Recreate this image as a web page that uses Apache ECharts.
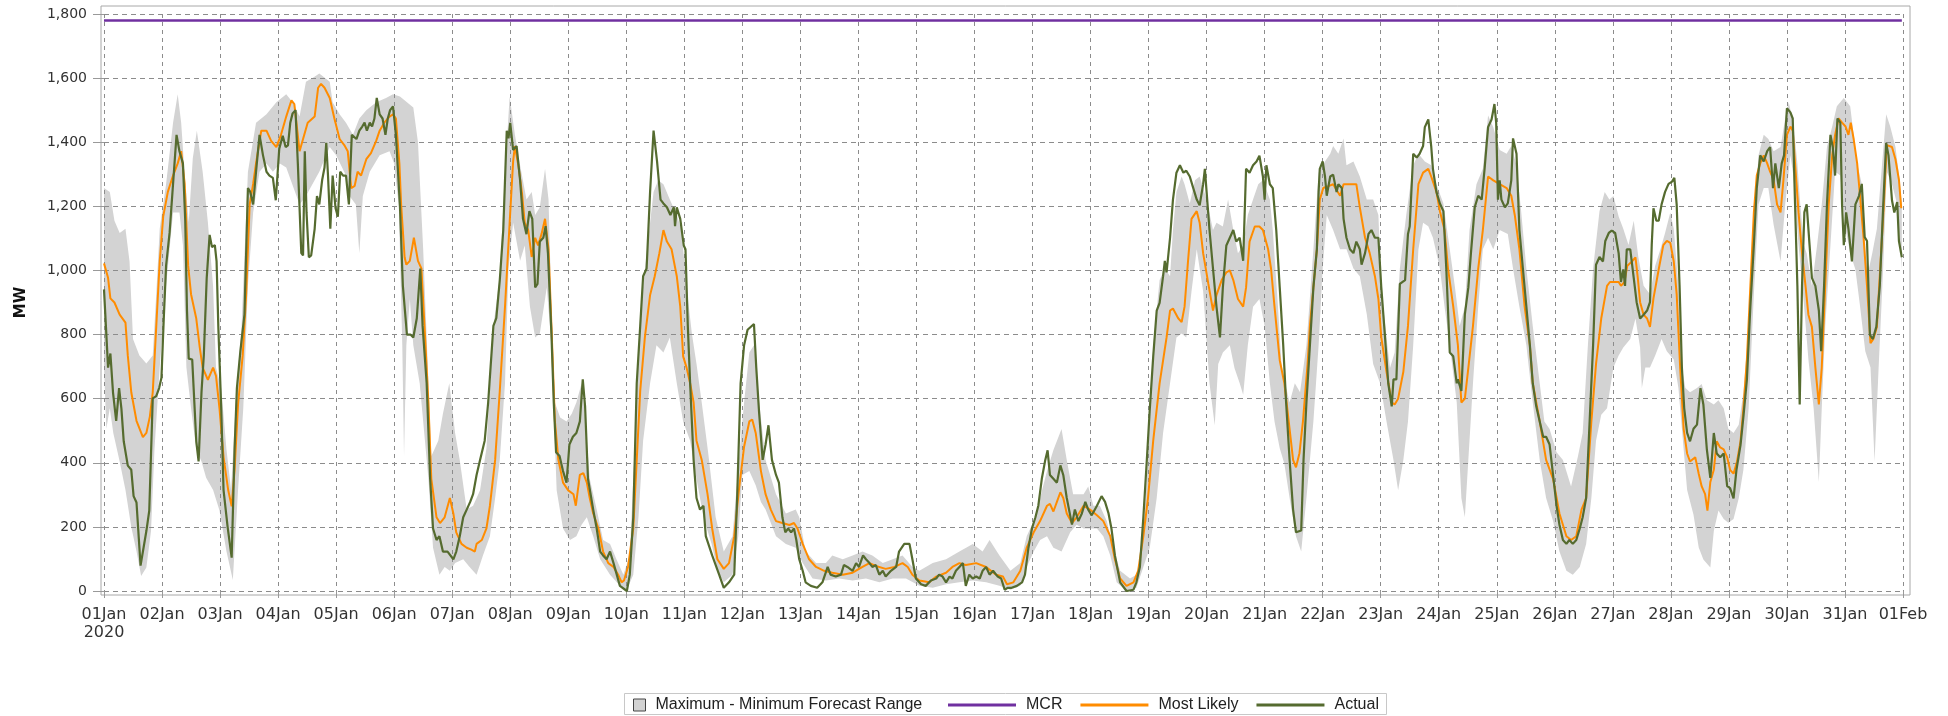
<!DOCTYPE html>
<html>
<head>
<meta charset="utf-8">
<script src="https://cdn.jsdelivr.net/npm/echarts@6/dist/echarts.min.js"></script>
<style>
html,body{margin:0;padding:0;background:#fff;}
#chart{width:1948px;height:716px;}
</style>
</head>
<body>
<div id="chart"></div>
<script>
// x = days since 01 Jan 2020 00:00, y = MW
const xTickLabels = ['01Jan\n2020','02Jan','03Jan','04Jan','05Jan','06Jan','07Jan','08Jan','09Jan','10Jan','11Jan','12Jan','13Jan','14Jan','15Jan','16Jan','17Jan','18Jan','19Jan','20Jan','21Jan','22Jan','23Jan','24Jan','25Jan','26Jan','27Jan','28Jan','29Jan','30Jan','31Jan','01Feb'];
const seriesNames = ['Maximum - Minimum Forecast Range','MCR','Most Likely','Actual'];

const mcrPts = [[0,1780],[30.98,1780]];

const actualPts = [[0,941],[0.07,697],[0.11,741],[0.155,620],[0.21,531],[0.26,633],[0.30,569],[0.34,467],[0.41,391],[0.47,378],[0.51,296],[0.56,276],[0.63,79],[0.73,187],[0.78,251],[0.84,601],[0.90,608],[0.95,633],[0.99,665],[1.03,850],[1.07,1015],[1.13,1117],[1.19,1270],[1.25,1423],[1.30,1372],[1.36,1334],[1.40,1155],[1.43,875],[1.46,725],[1.52,722],[1.59,467],[1.63,404],[1.68,620],[1.72,735],[1.77,977],[1.82,1111],[1.86,1073],[1.91,1079],[1.94,1028],[1.97,824],[2.02,570],[2.06,315],[2.13,200],[2.20,104],[2.25,442],[2.29,633],[2.35,748],[2.42,862],[2.48,1257],[2.52,1245],[2.57,1206],[2.62,1308],[2.68,1423],[2.74,1359],[2.80,1308],[2.85,1296],[2.91,1289],[2.96,1219],[3.02,1380],[3.08,1420],[3.13,1385],[3.17,1390],[3.21,1461],[3.25,1490],[3.30,1500],[3.34,1334],[3.40,1054],[3.43,1047],[3.46,1372],[3.49,1181],[3.53,1041],[3.57,1047],[3.63,1130],[3.67,1232],[3.71,1206],[3.76,1283],[3.80,1321],[3.83,1398],[3.86,1296],[3.90,1130],[3.94,1296],[3.99,1194],[4.03,1168],[4.07,1308],[4.12,1296],[4.17,1296],[4.22,1206],[4.27,1423],[4.30,1423],[4.35,1410],[4.40,1436],[4.45,1449],[4.49,1461],[4.53,1436],[4.58,1461],[4.62,1449],[4.66,1474],[4.70,1538],[4.75,1487],[4.80,1474],[4.85,1423],[4.89,1474],[4.93,1500],[4.98,1512],[5.03,1423],[5.10,1200],[5.15,952],[5.18,952],[5.22,800],[5.28,800],[5.33,791],[5.39,851],[5.45,1006],[5.49,827],[5.56,648],[5.62,350],[5.67,195],[5.73,159],[5.78,171],[5.84,123],[5.92,123],[6.02,99],[6.07,123],[6.13,171],[6.19,230],[6.25,254],[6.31,278],[6.36,302],[6.42,362],[6.48,409],[6.56,469],[6.62,588],[6.71,827],[6.76,851],[6.82,970],[6.88,1126],[6.94,1436],[6.97,1412],[7.0,1460],[7.05,1376],[7.11,1388],[7.17,1281],[7.22,1161],[7.28,1113],[7.33,1185],[7.38,1161],[7.43,947],[7.47,958],[7.51,1090],[7.57,1102],[7.61,1138],[7.65,1054],[7.71,803],[7.75,588],[7.79,433],[7.85,421],[7.91,374],[7.97,338],[8.02,457],[8.08,481],[8.14,493],[8.20,529],[8.25,660],[8.29,576],[8.34,350],[8.43,254],[8.49,195],[8.55,123],[8.60,111],[8.66,99],[8.72,123],[8.78,87],[8.89,16],[9.01,0],[9.06,51],[9.12,230],[9.18,648],[9.24,827],[9.29,982],[9.35,1006],[9.41,1245],[9.47,1436],[9.53,1340],[9.59,1221],[9.64,1209],[9.70,1197],[9.76,1173],[9.82,1197],[9.84,1138],[9.87,1197],[9.93,1161],[9.99,1078],[10.02,1066],[10.06,827],[10.10,648],[10.16,409],[10.21,290],[10.27,254],[10.33,266],[10.37,171],[10.48,111],[10.60,51],[10.68,10],[10.77,27],[10.86,51],[10.91,290],[10.97,648],[11.03,767],[11.09,815],[11.20,833],[11.24,696],[11.29,553],[11.35,409],[11.40,457],[11.45,517],[11.51,409],[11.58,362],[11.63,338],[11.69,230],[11.74,183],[11.79,195],[11.84,183],[11.89,195],[11.93,159],[11.98,99],[12.04,63],[12.09,27],[12.18,16],[12.29,10],[12.38,27],[12.47,75],[12.52,51],[12.61,45],[12.70,51],[12.75,81],[12.81,75],[12.90,63],[12.96,87],[13.01,75],[13.08,111],[13.13,99],[13.19,87],[13.24,75],[13.30,81],[13.36,51],[13.42,63],[13.47,45],[13.56,63],[13.65,75],[13.70,123],[13.79,147],[13.88,147],[13.93,99],[13.99,39],[14.08,21],[14.16,16],[14.25,33],[14.34,39],[14.39,51],[14.45,45],[14.51,27],[14.57,45],[14.62,39],[14.68,63],[14.74,75],[14.80,87],[14.85,16],[14.91,51],[14.97,39],[15.03,45],[15.09,39],[15.14,63],[15.20,75],[15.26,51],[15.32,63],[15.40,45],[15.46,39],[15.52,4],[15.57,10],[15.64,10],[15.73,16],[15.82,27],[15.87,51],[15.93,135],[15.99,195],[16.05,230],[16.10,266],[16.16,350],[16.22,409],[16.26,439],[16.30,362],[16.36,350],[16.42,338],[16.48,392],[16.53,362],[16.59,290],[16.68,207],[16.73,254],[16.79,218],[16.85,242],[16.91,278],[16.96,254],[17.02,236],[17.11,266],[17.19,296],[17.25,278],[17.31,242],[17.36,195],[17.42,111],[17.51,27],[17.62,0],[17.74,4],[17.79,27],[17.85,75],[17.91,230],[17.97,409],[18.02,565],[18.08,732],[18.14,875],[18.19,899],[18.25,982],[18.28,1030],[18.31,994],[18.37,1102],[18.42,1221],[18.48,1305],[18.54,1328],[18.60,1305],[18.65,1311],[18.71,1293],[18.77,1257],[18.83,1221],[18.88,1203],[18.94,1269],[18.97,1317],[19.00,1245],[19.05,1126],[19.11,1006],[19.17,887],[19.23,791],[19.28,947],[19.34,1078],[19.40,1102],[19.46,1126],[19.51,1090],[19.57,1102],[19.63,1030],[19.68,1317],[19.74,1305],[19.80,1328],[19.86,1340],[19.91,1358],[19.97,1293],[20.0,1221],[20.03,1328],[20.09,1269],[20.14,1257],[20.20,1126],[20.26,947],[20.32,767],[20.37,588],[20.43,409],[20.49,254],[20.54,183],[20.63,189],[20.67,409],[20.72,588],[20.78,767],[20.84,947],[20.90,1066],[20.93,1245],[20.95,1317],[21.0,1340],[21.04,1293],[21.07,1233],[21.13,1293],[21.18,1299],[21.24,1245],[21.27,1269],[21.33,1257],[21.36,1161],[21.41,1102],[21.47,1066],[21.53,1054],[21.58,1090],[21.64,1066],[21.67,1018],[21.73,1054],[21.79,1114],[21.84,1126],[21.90,1102],[21.96,1102],[22.01,947],[22.07,803],[22.13,648],[22.19,576],[22.22,660],[22.27,660],[22.33,958],[22.42,970],[22.47,1114],[22.50,1138],[22.56,1364],[22.62,1352],[22.67,1364],[22.73,1388],[22.76,1447],[22.82,1471],[22.87,1388],[22.90,1317],[22.96,1245],[23.02,1209],[23.08,1185],[23.13,1006],[23.19,744],[23.25,732],[23.31,648],[23.33,660],[23.39,624],[23.45,863],[23.51,947],[23.56,1066],[23.62,1197],[23.68,1233],[23.74,1221],[23.79,1317],[23.85,1447],[23.91,1471],[23.96,1519],[23.99,1460],[24.02,1221],[24.05,1281],[24.08,1221],[24.14,1197],[24.19,1209],[24.25,1281],[24.28,1412],[24.34,1364],[24.39,1126],[24.45,1006],[24.51,887],[24.57,767],[24.62,648],[24.68,576],[24.74,529],[24.80,481],[24.85,481],[24.91,457],[24.97,362],[25.03,266],[25.08,207],[25.14,159],[25.20,147],[25.25,159],[25.31,147],[25.37,159],[25.43,195],[25.48,230],[25.54,290],[25.60,529],[25.66,767],[25.71,1018],[25.77,1042],[25.83,1028],[25.87,1092],[25.93,1117],[25.98,1124],[26.04,1117],[26.10,1054],[26.14,964],[26.18,1003],[26.21,952],[26.24,1066],[26.30,1066],[26.36,977],[26.41,901],[26.47,850],[26.53,862],[26.59,875],[26.64,901],[26.67,1079],[26.70,1194],[26.75,1155],[26.79,1155],[26.84,1206],[26.90,1245],[26.96,1270],[27.02,1277],[27.06,1289],[27.10,1206],[27.15,952],[27.19,697],[27.23,570],[27.28,493],[27.33,467],[27.39,506],[27.45,519],[27.51,633],[27.56,582],[27.62,442],[27.68,353],[27.74,493],[27.79,429],[27.85,417],[27.91,429],[27.97,327],[28.02,321],[28.08,289],[28.13,378],[28.20,455],[28.25,544],[28.31,659],[28.37,888],[28.43,1079],[28.48,1257],[28.54,1359],[28.60,1340],[28.66,1372],[28.71,1385],[28.76,1257],[28.80,1334],[28.86,1257],[28.91,1334],[28.95,1359],[29.0,1506],[29.06,1493],[29.10,1474],[29.14,1206],[29.18,952],[29.22,582],[29.26,952],[29.30,1181],[29.34,1206],[29.39,1079],[29.43,977],[29.49,952],[29.55,875],[29.59,748],[29.64,952],[29.69,1206],[29.75,1423],[29.79,1385],[29.83,1296],[29.87,1474],[29.92,1461],[29.95,1206],[29.98,1079],[30.02,1181],[30.06,1130],[30.12,1028],[30.18,1206],[30.24,1232],[30.29,1270],[30.34,1104],[30.38,1092],[30.43,799],[30.48,786],[30.54,824],[30.60,952],[30.66,1206],[30.71,1398],[30.75,1359],[30.81,1219],[30.85,1181],[30.90,1213],[30.93,1092],[30.98,1041]];

const likelyPts = [[0,1022],[0.07,977],[0.11,913],[0.18,900],[0.27,862],[0.37,837],[0.41,735],[0.47,620],[0.56,531],[0.67,480],[0.73,493],[0.79,544],[0.84,620],[0.90,824],[0.96,1028],[1.02,1168],[1.10,1245],[1.19,1296],[1.27,1334],[1.33,1372],[1.39,1270],[1.45,1015],[1.50,926],[1.59,850],[1.65,760],[1.70,697],[1.79,659],[1.88,697],[1.93,671],[1.99,570],[2.06,417],[2.14,315],[2.20,264],[2.25,378],[2.31,582],[2.39,735],[2.45,926],[2.51,1206],[2.57,1270],[2.62,1334],[2.71,1436],[2.80,1436],[2.88,1404],[2.97,1385],[3.05,1423],[3.14,1480],[3.23,1531],[3.28,1519],[3.37,1372],[3.43,1410],[3.51,1461],[3.63,1480],[3.69,1570],[3.74,1582],[3.80,1570],[3.89,1538],[3.97,1474],[4.06,1410],[4.14,1391],[4.20,1372],[4.26,1257],[4.32,1264],[4.37,1308],[4.43,1296],[4.52,1347],[4.60,1366],[4.69,1404],[4.75,1436],[4.83,1461],[4.92,1480],[4.98,1487],[5.03,1474],[5.09,1334],[5.12,1206],[5.18,1041],[5.21,1018],[5.27,1030],[5.34,1102],[5.41,1030],[5.47,1006],[5.53,803],[5.59,588],[5.64,350],[5.73,230],[5.79,212],[5.87,230],[5.96,290],[6.02,242],[6.07,183],[6.16,147],[6.25,135],[6.33,129],[6.39,123],[6.42,147],[6.51,159],[6.59,195],[6.65,266],[6.74,409],[6.82,624],[6.91,887],[6.99,1149],[7.05,1340],[7.08,1388],[7.14,1328],[7.20,1245],[7.25,1149],[7.31,1126],[7.37,1042],[7.43,1102],[7.48,1078],[7.54,1114],[7.60,1161],[7.66,1066],[7.71,827],[7.77,529],[7.83,409],[7.91,338],[8.0,314],[8.09,302],[8.13,266],[8.20,362],[8.26,368],[8.32,338],[8.37,290],[8.43,242],[8.52,195],[8.60,123],[8.69,87],[8.78,75],[8.86,51],[8.92,27],[8.96,33],[9.03,75],[9.12,195],[9.18,409],[9.24,624],[9.32,791],[9.41,923],[9.49,982],[9.57,1054],[9.64,1126],[9.70,1090],[9.78,1066],[9.87,982],[9.93,887],[9.98,732],[10.04,696],[10.10,648],[10.16,588],[10.21,469],[10.30,409],[10.40,302],[10.48,195],[10.57,99],[10.68,69],[10.77,87],[10.86,171],[10.94,314],[11.03,450],[11.12,529],[11.17,535],[11.23,493],[11.32,374],[11.40,302],[11.49,254],[11.58,218],[11.69,212],[11.81,206],[11.89,212],[11.95,195],[12.04,147],[12.15,99],[12.27,75],[12.41,63],[12.55,57],[12.73,51],[12.90,57],[13.07,75],[13.19,87],[13.30,78],[13.47,69],[13.62,75],[13.76,87],[13.85,75],[13.93,51],[14.05,33],[14.22,27],[14.34,45],[14.51,57],[14.62,75],[14.74,87],[14.85,81],[15.03,87],[15.20,75],[15.37,51],[15.49,45],[15.56,21],[15.67,27],[15.79,63],[15.90,135],[16.02,183],[16.13,218],[16.25,266],[16.30,272],[16.36,248],[16.42,278],[16.48,308],[16.53,290],[16.59,242],[16.68,212],[16.76,230],[16.88,266],[16.99,254],[17.11,236],[17.22,218],[17.34,171],[17.42,99],[17.51,39],[17.62,16],[17.74,27],[17.82,63],[17.91,171],[17.99,290],[18.08,469],[18.19,648],[18.31,791],[18.37,875],[18.42,881],[18.51,851],[18.57,839],[18.62,887],[18.68,1030],[18.74,1161],[18.83,1185],[18.88,1149],[18.94,1054],[19.03,958],[19.11,875],[19.17,923],[19.26,970],[19.34,994],[19.40,1000],[19.46,970],[19.54,911],[19.63,887],[19.68,947],[19.74,1090],[19.83,1137],[19.91,1137],[19.97,1126],[20.06,1066],[20.11,1006],[20.17,887],[20.26,720],[20.34,648],[20.43,505],[20.49,409],[20.54,386],[20.60,430],[20.66,529],[20.74,708],[20.78,827],[20.84,947],[20.90,1066],[20.95,1221],[21.01,1257],[21.10,1263],[21.18,1269],[21.30,1233],[21.36,1269],[21.47,1269],[21.58,1269],[21.64,1197],[21.73,1102],[21.81,1054],[21.90,982],[21.96,911],[22.01,791],[22.10,684],[22.19,588],[22.24,582],[22.30,600],[22.39,684],[22.47,827],[22.56,1066],[22.65,1269],[22.73,1305],[22.82,1317],[22.87,1293],[22.96,1245],[23.02,1185],[23.10,1126],[23.16,1006],[23.25,887],[23.33,767],[23.39,588],[23.45,600],[23.51,696],[23.59,827],[23.68,1006],[23.76,1126],[23.85,1293],[23.94,1281],[24.05,1269],[24.17,1257],[24.25,1233],[24.31,1173],[24.39,1066],[24.48,887],[24.57,767],[24.62,648],[24.74,529],[24.85,409],[24.97,350],[25.08,242],[25.20,171],[25.28,159],[25.37,171],[25.46,254],[25.54,290],[25.63,529],[25.71,708],[25.80,850],[25.90,952],[25.95,964],[26.01,964],[26.10,964],[26.14,952],[26.20,964],[26.25,1015],[26.33,1028],[26.39,1041],[26.43,977],[26.47,901],[26.53,862],[26.59,850],[26.64,824],[26.70,913],[26.79,1003],[26.87,1079],[26.93,1092],[26.99,1086],[27.05,1028],[27.10,926],[27.16,697],[27.22,506],[27.28,429],[27.33,404],[27.42,417],[27.48,366],[27.53,327],[27.59,302],[27.63,251],[27.68,340],[27.74,378],[27.79,467],[27.85,448],[27.91,442],[27.97,417],[28.02,378],[28.08,366],[28.14,404],[28.20,467],[28.25,570],[28.31,722],[28.37,952],[28.43,1181],[28.48,1296],[28.54,1334],[28.60,1359],[28.66,1334],[28.71,1308],[28.77,1283],[28.83,1206],[28.89,1181],[28.94,1283],[29.0,1423],[29.06,1449],[29.10,1436],[29.14,1334],[29.20,1181],[29.26,1054],[29.32,952],[29.37,862],[29.43,824],[29.49,697],[29.55,582],[29.60,697],[29.66,952],[29.72,1206],[29.78,1359],[29.83,1423],[29.89,1474],[29.95,1461],[30.01,1449],[30.06,1423],[30.10,1461],[30.15,1410],[30.21,1334],[30.26,1232],[30.32,1104],[30.38,952],[30.44,773],[30.49,786],[30.55,824],[30.61,1015],[30.67,1206],[30.72,1391],[30.81,1385],[30.87,1347],[30.93,1283],[30.97,1194]];

const maxPts = [[0,1257],[0.10,1245],[0.18,1155],[0.27,1117],[0.37,1130],[0.44,1028],[0.50,786],[0.61,735],[0.73,710],[0.84,735],[0.90,926],[0.96,1130],[1.07,1270],[1.19,1461],[1.27,1550],[1.33,1461],[1.39,1300],[1.46,1150],[1.53,1350],[1.60,1436],[1.70,1308],[1.79,1150],[1.88,950],[1.93,697],[2.02,633],[2.11,442],[2.19,315],[2.28,620],[2.37,824],[2.48,1308],[2.62,1461],[2.80,1487],[2.97,1525],[3.14,1550],[3.25,1525],[3.37,1480],[3.48,1589],[3.60,1601],[3.71,1614],[3.89,1589],[3.94,1525],[4.06,1487],[4.17,1461],[4.29,1423],[4.40,1474],[4.52,1500],[4.69,1525],[4.86,1538],[4.98,1550],[5.10,1543],[5.33,1508],[5.41,1400],[5.50,1066],[5.58,700],[5.64,420],[5.76,469],[5.84,553],[5.95,648],[6.05,493],[6.13,409],[6.25,254],[6.36,266],[6.48,314],[6.59,445],[6.71,827],[6.82,982],[6.91,1305],[6.99,1543],[7.08,1424],[7.17,1328],[7.28,1221],[7.37,1245],[7.43,1173],[7.51,1197],[7.60,1317],[7.66,1221],[7.71,887],[7.77,588],[7.86,541],[7.97,529],[8.06,553],[8.14,588],[8.23,648],[8.29,541],[8.37,350],[8.49,254],[8.60,159],[8.72,147],[8.83,99],[8.95,51],[9.06,111],[9.15,469],[9.24,863],[9.35,1054],[9.47,1245],[9.55,1281],[9.64,1269],[9.75,1221],[9.87,1173],[9.95,1126],[10.04,947],[10.13,803],[10.21,708],[10.30,588],[10.41,433],[10.54,230],[10.68,123],[10.83,171],[10.94,409],[11.03,588],[11.12,744],[11.20,767],[11.29,588],[11.40,409],[11.58,302],[11.75,242],[11.92,254],[11.98,230],[12.09,123],[12.27,87],[12.44,87],[12.55,111],[12.73,99],[12.90,111],[13.07,123],[13.24,111],[13.42,87],[13.59,99],[13.76,111],[13.93,75],[14.05,63],[14.28,87],[14.51,99],[14.74,123],[14.97,147],[15.14,123],[15.26,159],[15.43,111],[15.62,63],[15.79,87],[15.90,171],[16.02,218],[16.13,290],[16.25,374],[16.36,440],[16.50,505],[16.59,409],[16.70,302],[16.88,302],[16.96,326],[17.05,266],[17.16,266],[17.28,218],[17.39,135],[17.51,63],[17.68,39],[17.79,51],[17.88,111],[17.97,350],[18.08,767],[18.19,970],[18.28,1006],[18.37,982],[18.42,1126],[18.48,1245],[18.57,1293],[18.62,1269],[18.71,1209],[18.80,1281],[18.88,1293],[19.0,1221],[19.11,1126],[19.17,1149],[19.28,1137],[19.37,1221],[19.46,1126],[19.54,1054],[19.63,1078],[19.71,1173],[19.80,1221],[19.89,1269],[19.97,1281],[20.09,1221],[20.14,1126],[20.23,887],[20.29,708],[20.34,660],[20.43,588],[20.52,648],[20.61,620],[20.72,767],[20.84,1066],[20.93,1305],[21.04,1340],[21.13,1364],[21.18,1388],[21.27,1364],[21.36,1412],[21.41,1328],[21.53,1340],[21.64,1293],[21.76,1221],[21.87,1221],[21.96,1173],[22.01,947],[22.10,791],[22.16,696],[22.24,744],[22.33,1006],[22.44,1173],[22.56,1328],[22.65,1364],[22.76,1340],[22.87,1328],[22.96,1269],[23.08,1209],[23.19,1066],[23.28,947],[23.36,827],[23.45,887],[23.53,1126],[23.65,1269],[23.76,1317],[23.85,1483],[23.94,1447],[24.05,1376],[24.17,1364],[24.25,1388],[24.34,1328],[24.42,1185],[24.51,1006],[24.62,827],[24.74,648],[24.82,529],[24.91,505],[25.03,433],[25.14,409],[25.28,326],[25.40,421],[25.48,493],[25.57,767],[25.66,1006],[25.77,1185],[25.86,1245],[25.94,1221],[26.01,1232],[26.10,1168],[26.18,1130],[26.27,1079],[26.36,1155],[26.44,1041],[26.53,952],[26.64,926],[26.73,1015],[26.82,1066],[26.90,1117],[26.99,1181],[27.05,1130],[27.13,952],[27.19,697],[27.25,633],[27.33,620],[27.45,633],[27.53,646],[27.62,595],[27.74,582],[27.82,595],[27.91,570],[27.99,506],[28.08,493],[28.17,519],[28.25,620],[28.34,824],[28.43,1130],[28.51,1359],[28.60,1423],[28.68,1410],[28.77,1372],[28.89,1385],[28.97,1474],[29.03,1525],[29.11,1461],[29.18,1334],[29.23,1206],[29.29,1079],[29.34,1054],[29.43,952],[29.52,1079],[29.60,1206],[29.69,1385],[29.78,1449],[29.86,1512],[29.98,1538],[30.09,1512],[30.21,1334],[30.29,1270],[30.38,977],[30.47,1054],[30.55,1130],[30.64,1334],[30.71,1487],[30.78,1449],[30.87,1385],[30.95,1270],[30.98,1206]];

const minPts = [[0,700],[0.04,506],[0.10,570],[0.16,493],[0.27,404],[0.37,315],[0.47,200],[0.56,124],[0.64,47],[0.73,73],[0.81,187],[0.87,442],[0.96,697],[1.07,952],[1.19,1181],[1.30,1181],[1.36,1079],[1.42,697],[1.50,570],[1.59,442],[1.68,404],[1.76,353],[1.88,315],[1.99,251],[2.11,124],[2.22,34],[2.31,315],[2.40,570],[2.48,952],[2.57,1181],[2.68,1308],[2.80,1334],[2.91,1308],[3.03,1334],[3.14,1321],[3.37,1206],[3.48,1232],[3.71,1308],[3.89,1385],[4.00,1359],[4.17,1296],[4.23,1232],[4.34,1206],[4.40,1054],[4.46,1232],[4.58,1308],[4.75,1359],[4.92,1372],[5.0,1334],[5.08,1200],[5.14,767],[5.17,421],[5.21,767],[5.27,911],[5.33,767],[5.44,648],[5.59,350],[5.67,135],[5.78,51],[5.87,75],[5.96,63],[6.05,87],[6.19,99],[6.30,75],[6.42,51],[6.53,111],[6.65,171],[6.74,290],[6.82,409],[6.91,648],[6.97,1006],[7.05,1149],[7.17,1030],[7.25,1078],[7.34,887],[7.43,791],[7.51,803],[7.63,947],[7.71,767],[7.80,314],[7.91,195],[8.03,159],[8.14,171],[8.23,207],[8.32,230],[8.43,171],[8.55,99],[8.72,51],[8.89,16],[9.01,4],[9.12,51],[9.21,230],[9.29,469],[9.41,648],[9.52,767],[9.64,744],[9.75,791],[9.87,648],[9.98,529],[10.10,469],[10.21,350],[10.33,230],[10.47,147],[10.58,60],[10.68,27],[10.83,51],[10.93,171],[11.0,362],[11.12,374],[11.23,330],[11.32,278],[11.40,254],[11.58,171],[11.75,147],[11.92,135],[12.04,87],[12.21,39],[12.44,33],[12.67,39],[12.90,33],[13.13,39],[13.36,27],[13.59,39],[13.82,39],[14.05,16],[14.28,10],[14.51,21],[14.74,27],[14.97,33],[15.20,27],[15.43,16],[15.62,4],[15.79,16],[15.90,75],[16.02,123],[16.13,159],[16.25,171],[16.36,135],[16.50,123],[16.65,183],[16.76,207],[16.88,195],[17.11,195],[17.22,171],[17.34,111],[17.45,27],[17.62,0],[17.79,10],[17.91,75],[18.02,135],[18.14,290],[18.25,493],[18.37,648],[18.48,791],[18.57,803],[18.65,791],[18.74,935],[18.83,1066],[18.94,935],[19.05,648],[19.14,517],[19.20,708],[19.28,744],[19.40,767],[19.48,696],[19.57,648],[19.63,612],[19.71,767],[19.80,887],[19.91,911],[20.0,827],[20.09,648],[20.17,529],[20.26,445],[20.34,397],[20.43,290],[20.54,171],[20.63,123],[20.72,290],[20.84,529],[20.93,767],[21.0,1006],[21.07,1173],[21.18,1126],[21.30,1066],[21.41,1066],[21.53,1006],[21.64,982],[21.76,863],[21.87,708],[21.99,648],[22.10,529],[22.22,409],[22.30,314],[22.39,409],[22.47,529],[22.56,767],[22.65,1066],[22.73,1149],[22.82,1138],[22.90,1102],[23.02,1006],[23.10,887],[23.19,767],[23.31,588],[23.39,290],[23.45,230],[23.51,409],[23.59,648],[23.68,887],[23.76,1066],[23.85,1102],[23.94,1066],[24.05,1126],[24.19,1114],[24.28,1006],[24.39,887],[24.51,767],[24.62,588],[24.74,409],[24.85,290],[24.97,218],[25.08,123],[25.20,63],[25.31,51],[25.43,75],[25.54,147],[25.63,290],[25.71,469],[25.80,550],[25.90,570],[26.01,697],[26.10,735],[26.18,760],[26.30,786],[26.39,850],[26.47,760],[26.50,633],[26.56,697],[26.64,697],[26.73,735],[26.84,786],[26.93,748],[27.05,722],[27.13,633],[27.19,506],[27.28,315],[27.39,238],[27.48,136],[27.56,98],[27.68,73],[27.74,187],[27.82,251],[27.91,225],[27.99,213],[28.08,225],[28.17,289],[28.25,378],[28.34,570],[28.43,926],[28.51,1206],[28.60,1257],[28.68,1257],[28.77,1143],[28.89,1028],[28.97,1206],[29.06,1359],[29.11,1296],[29.20,1079],[29.29,901],[29.37,722],[29.46,570],[29.55,340],[29.60,570],[29.66,824],[29.75,1079],[29.83,1308],[29.92,1296],[30.01,1130],[30.09,1054],[30.18,1003],[30.26,888],[30.35,748],[30.44,697],[30.51,404],[30.58,697],[30.66,1015],[30.72,1308],[30.81,1270],[30.90,1206],[30.98,1003]];

const chart = echarts.init(document.getElementById('chart'), null, {renderer: 'canvas'});

const axisLabelStyle = {color: '#333', fontFamily: 'DejaVu Sans', fontSize: 14};
const legendText = {color: '#222', fontFamily: 'Liberation Sans', fontSize: 16, padding: [0, 0, 0, 5]};

const option = {
  animation: false,
  backgroundColor: '#fff',
  grid: [
    {left: 104, right: 45, top: 14, bottom: 125, show: false},
    {left: 101, right: 38, top: 6, bottom: 121, show: true, borderColor: '#a8a8a8', borderWidth: 1, backgroundColor: 'transparent', z: 0}
  ],
  xAxis: [
    {
      type: 'value', gridIndex: 0, min: 0, max: 31, interval: 1,
      axisLine: {show: false},
      axisTick: {show: true, length: 7, lineStyle: {color: '#999'}},
      axisLabel: Object.assign({}, axisLabelStyle, {
        fontSize: 16, margin: 15, lineHeight: 18, showMinLabel: true, showMaxLabel: true,
        formatter: function (v) { return xTickLabels[Math.round(v)] || ''; }
      }),
      splitLine: {show: true, lineStyle: {color: '#8c8c8c', type: [4, 4], width: 1}}
    },
    {type: 'value', gridIndex: 1, show: false, min: 0, max: 1}
  ],
  yAxis: [
    {
      type: 'value', gridIndex: 0, min: 0, max: 1800, interval: 200,
      name: 'MW', nameLocation: 'middle', nameRotate: 90, nameGap: 75,
      nameTextStyle: {fontFamily: 'DejaVu Sans', fontWeight: 'bold', fontSize: 15, color: '#111'},
      axisLine: {show: false},
      axisTick: {show: true, length: 11, lineStyle: {color: '#999'}},
      axisLabel: Object.assign({}, axisLabelStyle, {
        margin: 17,
        formatter: function (v) { return v.toLocaleString('en-US'); }
      }),
      splitLine: {show: true, lineStyle: {color: '#8c8c8c', type: [5, 4], width: 1}}
    },
    {type: 'value', gridIndex: 1, show: false, min: 0, max: 1}
  ],
  legend: [
    {
      left: 633, top: 697, padding: 0, itemWidth: 12, itemHeight: 12, itemGap: 18,
      textStyle: legendText,
      data: [{name: seriesNames[0], icon: 'rect', itemStyle: {color: '#d3d3d3', borderColor: '#444', borderWidth: 1}}]
    },
    {
      left: 948, top: 697, padding: 0, itemWidth: 68, itemHeight: 3, itemGap: 18,
      icon: 'rect',
      textStyle: legendText,
      data: [seriesNames[1], seriesNames[2], seriesNames[3]]
    }
  ],
  graphic: [{
    type: 'rect', silent: true, z: -10,
    shape: {x: 624.5, y: 693.5, width: 762, height: 21},
    style: {fill: '#fff', stroke: '#c8c8c8', lineWidth: 1}
  }],
  series: [
    {
      name: seriesNames[0], type: 'custom', xAxisIndex: 0, yAxisIndex: 0, z: -1,
      itemStyle: {color: '#d3d3d3'},
      data: [[0, 0]],
      encode: {x: 0, y: 1},
      renderItem: function (params, api) {
        if (params.dataIndex !== 0) return null;
        const pts = maxPts.map(function (p) { return api.coord(p); })
          .concat(minPts.slice().reverse().map(function (p) { return api.coord(p); }));
        return {type: 'polygon', shape: {points: pts}, style: {fill: '#d3d3d3', stroke: null}};
      }
    },
    {
      name: seriesNames[1], type: 'line', xAxisIndex: 0, yAxisIndex: 0,
      symbol: 'none', data: mcrPts,
      lineStyle: {color: '#7030a0', width: 2.5}, itemStyle: {color: '#7030a0'}
    },
    {
      name: seriesNames[2], type: 'line', xAxisIndex: 0, yAxisIndex: 0,
      symbol: 'none', data: likelyPts,
      lineStyle: {color: '#ff8c00', width: 2}, itemStyle: {color: '#ff8c00'}
    },
    {
      name: seriesNames[3], type: 'line', xAxisIndex: 0, yAxisIndex: 0,
      symbol: 'none', data: actualPts,
      lineStyle: {color: '#556b2f', width: 2.2}, itemStyle: {color: '#556b2f'}
    }
  ]
};
chart.setOption(option);
</script>
</body>
</html>
